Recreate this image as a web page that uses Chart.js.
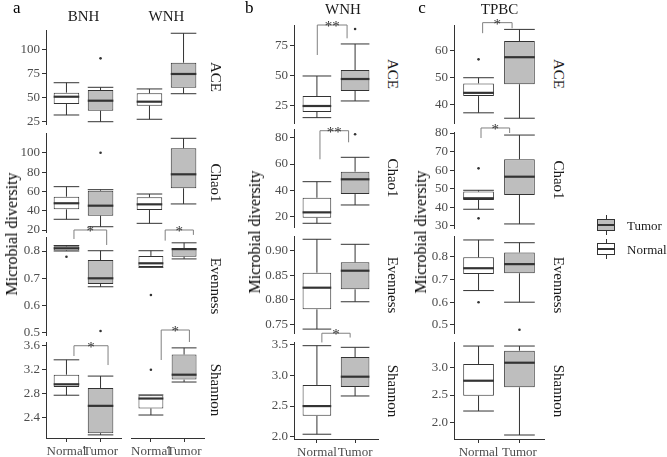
<!DOCTYPE html>
<html>
<head>
<meta charset="utf-8">
<script src="https://cdn.jsdelivr.net/npm/chart.js@4.4.1/dist/chart.umd.min.js"></script>
<style>
  html, body { margin: 0; padding: 0; background: #fff; }
  #stage { position: relative; width: 667px; height: 457px; overflow: hidden; font-family: "Liberation Serif", "DejaVu Serif", serif; }
  #stage canvas { position: absolute; }
  .lbl { position: absolute; white-space: nowrap; line-height: 1; color: #1a1a1a; }
  .key { position: absolute; box-sizing: border-box; }
</style>
</head>
<body>
<div id="stage"></div>
<script>
(() => {
  "use strict";

  const groups = ["Normal", "Tumor"];
  const metrics = ["ACE", "Chao1", "Evenness", "Shannon"];

  // box stats per metric (ACE, Chao1, Evenness, Shannon): [lower, q1, median, q3, upper]
  const bnhNormal = [
    [32.2, 43.5, 51.0, 55.2, 65.4],
    [31.1, 41.4, 47.7, 54.5, 64.9],
    [0.800, 0.802, 0.810, 0.817, 0.820],
    [2.775, 2.913, 2.957, 3.117, 3.365]
  ];
  const bnhTumor = [
    [25.3, 36.6, 46.9, 57.9, 60.7],
    [23.4, 34.8, 45.2, 60.7, 61.8],
    [0.669, 0.679, 0.700, 0.767, 0.801],
    [2.114, 2.142, 2.598, 2.896, 3.094]
  ];
  const wnhANormal = [
    [27.8, 41.8, 45.9, 54.5, 59.0],
    [26.9, 40.7, 46.6, 53.9, 57.3],
    [0.740, 0.741, 0.755, 0.782, 0.801],
    [2.445, 2.555, 2.720, 2.775, 2.780]
  ];
  const wnhATumor = [
    [54.1, 60.3, 74.4, 86.0, 116.3],
    [47.0, 63.2, 77.7, 104.7, 115.0],
    [0.771, 0.779, 0.807, 0.810, 0.830],
    [2.995, 3.035, 3.117, 3.453, 3.564]
  ];
  const wnhBNormal = [
    [15.3, 20.0, 25.0, 33.3, 50.0],
    [15.0, 19.2, 23.3, 34.4, 46.6],
    [0.740, 0.7805, 0.8248, 0.8556, 0.924],
    [2.04, 2.34, 2.50, 2.845, 3.487]
  ];
  const wnhBTumor = [
    [29.2, 37.5, 47.5, 55.0, 76.7],
    [28.9, 37.2, 48.4, 54.2, 65.1],
    [0.796, 0.8215, 0.8596, 0.8768, 0.9137],
    [2.665, 2.81, 2.98, 3.30, 3.46]
  ];
  const tpbcNormal = [
    [37.1, 43.3, 44.5, 48.0, 50.1],
    [39.0, 44.0, 44.9, 48.5, 49.2],
    [0.651, 0.724, 0.749, 0.797, 0.873],
    [2.211, 2.487, 2.758, 3.06, 3.384]
  ];
  const tpbcTumor = [
    [35.1, 47.7, 57.7, 63.7, 68.0],
    [31.1, 46.7, 56.5, 65.9, 78.9],
    [0.600, 0.727, 0.767, 0.818, 0.861],
    [1.778, 2.639, 3.083, 3.30, 3.384]
  ];

  // outliers: [metric, group, value]
  const bnhOutliers = [[0, 1, 90.5], [1, 1, 100], [2, 0, 0.779], [2, 1, 0.507]];
  const wnhAOutliers = [[2, 0, 0.639], [3, 0, 3.2]];
  const wnhBOutliers = [[0, 1, 89.2], [1, 1, 82.6]];
  const tpbcOutliers = [[0, 0, 56.9], [1, 0, 61.0], [1, 0, 34.1], [2, 0, 0.600], [2, 1, 0.479]];

  // significance brackets: [metric, xLeft, xRight, yLeftEnd, yTop, yRightEnd, label]
  const bnhBrackets = [[2, 1.22, 2.18, 0.844, 0.877, 0.822, "*"], [3, 1.22, 2.22, 3.428, 3.60, 3.278, "*"]];
  const wnhABrackets = [[2, 1.43, 2.28, 0.838, 0.877, 0.859, "*"], [3, 1.31, 2.16, 3.362, 3.862, 3.662, "*"]];
  const wnhBBrackets = [[0, 1.01, 1.79, 67.5, 92.5, 81.4, "**"], [1, 1.08, 1.83, 63.6, 85.3, 76.5, "**"], [3, 1.13, 1.87, 3.54, 3.69, 3.62, "*"]];
  const tpbcBrackets = [[0, 1.10, 1.82, 66.6, 70.5, 68.4, "*"], [1, 1.06, 1.76, 77.3, 82.7, 80.0, "*"]];

  // y tick labels per metric
  const aTicks = [["25", "50", "75", "100"], ["20", "40", "60", "80", "100"], ["0.5", "0.6", "0.7", "0.8"], ["2.4", "2.8", "3.2", "3.6"]];
  const bTicks = [["25", "50", "75"], ["20", "40", "60", "80"], ["0.75", "0.80", "0.85", "0.90"], ["2.0", "2.5", "3.0", "3.5"]];
  const cTicks = [["40", "50", "60"], ["30", "40", "50", "60", "70", "80"], ["0.5", "0.6", "0.7", "0.8"], ["2.0", "2.5", "3.0"]];

  // y-axis limits per metric
  const aRanges = [[22.94, 119.65], [17.93, 120.5], [0.4923, 0.8513], [2.062, 3.662]];
  const bRanges = [[10.83, 92.5], [12.18, 86.6], [0.732, 0.9307], [1.962, 3.547]];
  const cRanges = [[33.33, 69.63], [28.92, 80.54], [0.4649, 0.8904], [1.706, 3.457]];

  // layout (page pixels)
  const aRows = [[30, 124], [133, 232], [237, 335], [342, 438]];
  const bRows = [[25, 123], [129, 227], [236, 333], [342, 439]];
  const cRows = [[25, 123], [132, 228], [236, 333], [342, 439]];

  const SERIF = '"Liberation Serif", "DejaVu Serif", serif';
  const INK = "#333333";
  const FILL = ["#ffffff", "#bebebe"];
  const PAD = { top: 24, right: 4, axisY: 40, axisX: 20, bottom: 10, left: 2 };

  Chart.defaults.font.family = SERIF;
  Chart.defaults.animation = false;

  const stage = document.getElementById("stage");

  function label(text, x, y, size, opts = {}) {
    const d = document.createElement("div");
    d.className = "lbl";
    d.textContent = text;
    d.style.left = x + "px";
    d.style.top = y + "px";
    d.style.fontSize = size + "px";
    const rot = opts.rotate ? ` rotate(${opts.rotate}deg)` : "";
    d.style.transform = (opts.anchor === "left" ? "translate(0,-50%)" : "translate(-50%,-50%)") + rot;
    if (opts.color) d.style.color = opts.color;
    stage.appendChild(d);
  }

  const boxParts = {
    id: "boxParts",
    afterDatasetsDraw(chart) {
      const o = chart.options.plugins.boxParts;
      const { ctx } = chart;
      const x = chart.scales.x, y = chart.scales.y;
      const bars = chart.getDatasetMeta(0).data;
      ctx.save();
      ctx.strokeStyle = INK;
      o.stats.forEach((s, i) => {
        const cx = x.getPixelForValue(i + 1);
        const hw = bars[i].width / 2;
        const [lo, q1, med, q3, hi] = s.map(v => y.getPixelForValue(v));
        ctx.lineWidth = 1;
        ctx.beginPath();
        ctx.moveTo(cx, hi); ctx.lineTo(cx, q3);
        ctx.moveTo(cx, q1); ctx.lineTo(cx, lo);
        ctx.moveTo(cx - hw, hi); ctx.lineTo(cx + hw, hi);
        ctx.moveTo(cx - hw, lo); ctx.lineTo(cx + hw, lo);
        ctx.stroke();
        ctx.lineWidth = 2.2;
        ctx.beginPath();
        ctx.moveTo(cx - hw, med); ctx.lineTo(cx + hw, med);
        ctx.stroke();
      });
      o.brackets.forEach(([xa, xb, ya, yt, yb, txt]) => {
        const px1 = x.getPixelForValue(xa), px2 = x.getPixelForValue(xb);
        const pt = y.getPixelForValue(yt);
        ctx.strokeStyle = "#808080";
        ctx.lineWidth = 1;
        ctx.beginPath();
        ctx.moveTo(px1, y.getPixelForValue(ya));
        ctx.lineTo(px1, pt);
        ctx.lineTo(px2, pt);
        ctx.lineTo(px2, y.getPixelForValue(yb));
        ctx.stroke();
        ctx.fillStyle = INK;
        ctx.font = `15px ${SERIF}`;
        ctx.textAlign = "center";
        ctx.textBaseline = "alphabetic";
        ctx.fillText(txt, (px1 + px2) / 2, pt + 6);
      });
      ctx.restore();
    }
  };

  function facet(o) {
    const [x0, x1] = o.cols;
    const [y0, y1] = o.rows;
    const padL = o.showY ? PAD.axisY : PAD.left;
    const padB = o.showX ? PAD.axisX : PAD.bottom;
    const w = x1 - x0 + padL + PAD.right;
    const h = y1 - y0 + PAD.top + padB;
    const canvas = document.createElement("canvas");
    canvas.width = w;
    canvas.height = h;
    canvas.style.left = (x0 - padL) + "px";
    canvas.style.top = (y0 - PAD.top) + "px";
    canvas.style.width = w + "px";
    canvas.style.height = h + "px";
    stage.appendChild(canvas);

    const tickFont = { color: "#4d4d4d", font: { size: 13, family: SERIF }, padding: 2 };
    const border = { display: true, color: INK, width: 1 };

    new Chart(canvas, {
      type: "bar",
      data: {
        datasets: [
          {
            type: "bar",
            data: o.stats.map((s, i) => ({ x: i + 1, y: [s[1], s[3]] })),
            backgroundColor: FILL,
            borderColor: INK,
            borderWidth: 1,
            borderSkipped: false,
            barPercentage: 0.75,
            categoryPercentage: 1
          },
          {
            type: "scatter",
            data: o.outliers.map(([g, v]) => ({ x: g + 1, y: v })),
            pointRadius: 1.3,
            pointBackgroundColor: INK,
            pointBorderWidth: 0
          }
        ]
      },
      options: {
        responsive: false,
        animation: false,
        layout: { padding: { left: o.showY ? 0 : padL, right: PAD.right, top: PAD.top, bottom: o.showX ? 0 : padB } },
        plugins: {
          legend: { display: false },
          tooltip: { enabled: false },
          boxParts: { stats: o.stats, brackets: o.brackets }
        },
        scales: {
          x: {
            type: "linear", min: 0.4, max: 2.6, offset: false, display: o.showX,
            grid: { display: true, offset: false, drawOnChartArea: false, drawTicks: true, tickLength: 4, color: INK },
            border,
            afterBuildTicks: s => { s.ticks = groups.map((g, i) => ({ value: i + 1 })); },
            afterFit: s => { if (o.showX) s.height = PAD.axisX; s.paddingLeft = 0; s.paddingRight = 0; },
            ticks: { ...tickFont, maxRotation: 0, autoSkip: false, callback: (v, i) => groups[i] }
          },
          y: {
            type: "linear", min: o.range[0], max: o.range[1], beginAtZero: false, display: o.showY,
            grid: { display: true, drawOnChartArea: false, drawTicks: true, tickLength: 4, color: INK },
            border,
            afterBuildTicks: s => { s.ticks = o.ticks.map(t => ({ value: parseFloat(t) })); },
            afterFit: s => { if (o.showY) s.width = PAD.axisY; s.paddingTop = 0; s.paddingBottom = 0; },
            ticks: { ...tickFont, autoSkip: false, callback: (v, i) => o.ticks[i] }
          }
        }
      },
      plugins: [boxParts]
    });
  }

  const pick = (list, m) => list.filter(r => r[0] === m).map(r => r.slice(1));

  const panels = [
    { cols: [46, 121], normal: bnhNormal, tumor: bnhTumor, outliers: bnhOutliers, brackets: bnhBrackets, rows: aRows, ranges: aRanges, ticks: aTicks, showY: true },
    { cols: [129, 204], normal: wnhANormal, tumor: wnhATumor, outliers: wnhAOutliers, brackets: wnhABrackets, rows: aRows, ranges: aRanges, ticks: aTicks, showY: false },
    { cols: [294, 378], normal: wnhBNormal, tumor: wnhBTumor, outliers: wnhBOutliers, brackets: wnhBBrackets, rows: bRows, ranges: bRanges, ticks: bTicks, showY: true },
    { cols: [454, 544], normal: tpbcNormal, tumor: tpbcTumor, outliers: tpbcOutliers, brackets: tpbcBrackets, rows: cRows, ranges: cRanges, ticks: cTicks, showY: true }
  ];

  panels.forEach(p => {
    metrics.forEach((name, m) => {
      facet({
        cols: p.cols,
        rows: p.rows[m],
        range: p.ranges[m],
        ticks: p.ticks[m],
        stats: [p.normal[m], p.tumor[m]],
        outliers: pick(p.outliers, m),
        brackets: pick(p.brackets, m),
        showY: p.showY,
        showX: m === metrics.length - 1
      });
    });
  });

  // panel letters, column headers
  label("a", 16.7, 6.5, 17, { color: "#000" });
  label("b", 249.3, 6.5, 17, { color: "#000" });
  label("c", 422, 7, 17, { color: "#000" });
  label("BNH", 83.5, 16.3, 15);
  label("WNH", 166.5, 16.3, 15);
  label("WNH", 343, 8.7, 15);
  label("TPBC", 499.5, 9.2, 15);

  // strip labels on the right of each panel
  [[215, aRows], [391.7, bRows], [558.3, cRows]].forEach(([sx, rows]) => {
    metrics.forEach((name, m) => label(name, sx, (rows[m][0] + rows[m][1]) / 2, 15, { rotate: 90 }));
  });

  // y-axis titles
  label("Microbial diversity", 12, 234, 16, { rotate: -90, color: "#000" });
  label("Microbial diversity", 255, 232, 16, { rotate: -90, color: "#000" });
  label("Microbial diversity", 421, 232, 16, { rotate: -90, color: "#000" });

  // legend
  function legendKey(cy, fill, text) {
    const parts = [
      { left: 605.5, top: cy - 10, width: 1, height: 20, background: INK },
      { left: 597, top: cy - 6, width: 18, height: 12, background: fill, border: "1px solid " + INK },
      { left: 597, top: cy - 1, width: 18, height: 2, background: INK }
    ];
    parts.forEach(s => {
      const d = document.createElement("div");
      d.className = "key";
      Object.entries(s).forEach(([k, v]) => { d.style[k] = typeof v === "number" ? v + "px" : v; });
      stage.appendChild(d);
    });
    label(text, 627, cy, 13, { anchor: "left" });
  }
  legendKey(225, FILL[1], groups[1]);
  legendKey(249, FILL[0], groups[0]);
})();
</script>
</body>
</html>
